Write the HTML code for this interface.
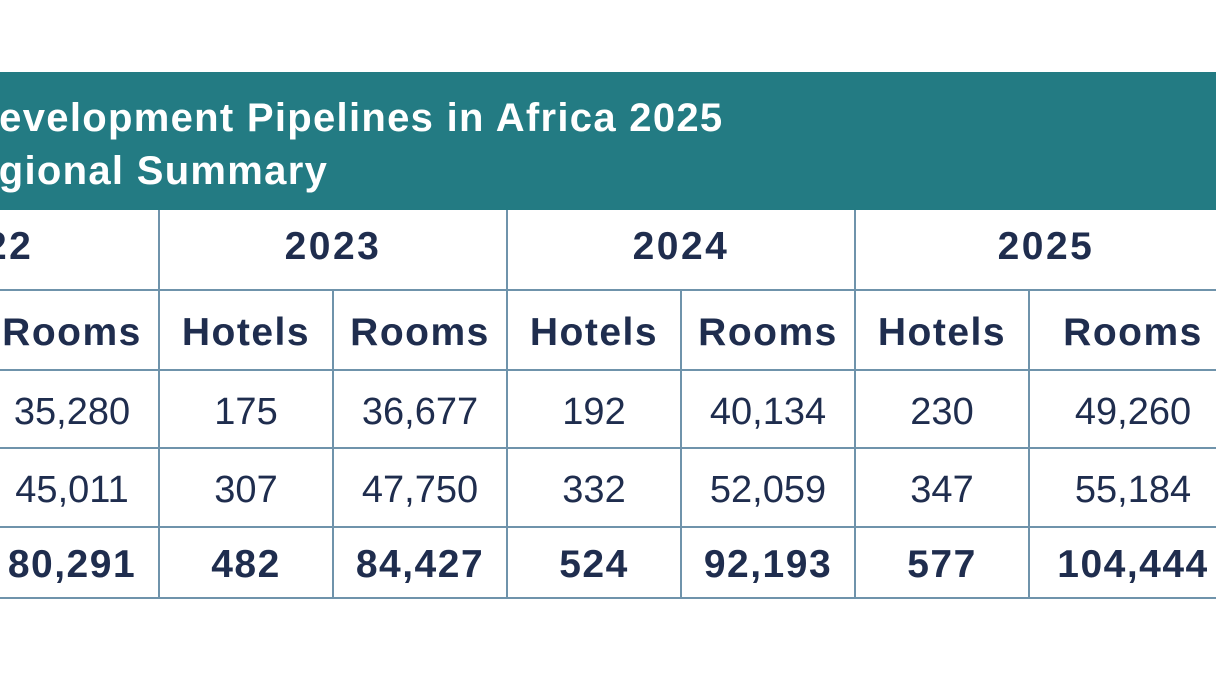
<!DOCTYPE html>
<html><head><meta charset="utf-8"><style>
body{margin:0;width:1216px;height:684px;background:#fff;overflow:hidden;font-family:"Liberation Sans",sans-serif;color:#1f2d4e}
.w{position:relative;width:1216px;height:684px;overflow:hidden}
.hd{position:absolute;left:0;top:72px;width:1216px;height:138px;background:#237b83}
.t{position:absolute;color:#fff;font-weight:bold;font-size:40px;letter-spacing:1.3px;white-space:nowrap}
.h{position:absolute;background:#6f93ab;height:2px}
.v{position:absolute;background:#6f93ab;width:2px}
.c{position:absolute;text-align:center;white-space:nowrap;font-size:38px}
.b{font-weight:bold;font-size:39px;letter-spacing:1.5px}
.y{font-size:39px;font-weight:bold;letter-spacing:2.5px}
</style></head><body><div class="w">
<div class="hd"></div>
<div class="t" style="left:-31px;top:96px">Development Pipelines in Africa 2025</div>
<div class="t" style="left:-55px;top:149px">Regional Summary</div>
<div class="h" style="left:0;width:1216px;top:289px"></div>
<div class="h" style="left:0;width:1216px;top:369px"></div>
<div class="h" style="left:0;width:1216px;top:447px"></div>
<div class="h" style="left:0;width:1216px;top:526px"></div>
<div class="h" style="left:0;width:1216px;top:597px"></div>
<div class="v" style="left:158px;top:210px;height:389px"></div>
<div class="v" style="left:506px;top:210px;height:389px"></div>
<div class="v" style="left:854px;top:210px;height:389px"></div>
<div class="v" style="left:332px;top:290px;height:309px"></div>
<div class="v" style="left:680px;top:290px;height:309px"></div>
<div class="v" style="left:1028px;top:290px;height:309px"></div>
<div class="c y" style="left:-189px;width:348px;top:225px">2022</div>
<div class="c y" style="left:159px;width:348px;top:225px">2023</div>
<div class="c y" style="left:507px;width:348px;top:225px">2024</div>
<div class="c y" style="left:855px;width:382px;top:225px">2025</div>
<div class="c b" style="left:-15px;width:174px;top:311px">Rooms</div>
<div class="c b" style="left:159px;width:174px;top:311px">Hotels</div>
<div class="c b" style="left:333px;width:174px;top:311px">Rooms</div>
<div class="c b" style="left:507px;width:174px;top:311px">Hotels</div>
<div class="c b" style="left:681px;width:174px;top:311px">Rooms</div>
<div class="c b" style="left:855px;width:174px;top:311px">Hotels</div>
<div class="c b" style="left:1029px;width:208px;top:311px">Rooms</div>
<div class="c" style="left:-15px;width:174px;top:391px">35,280</div>
<div class="c" style="left:159px;width:174px;top:391px">175</div>
<div class="c" style="left:333px;width:174px;top:391px">36,677</div>
<div class="c" style="left:507px;width:174px;top:391px">192</div>
<div class="c" style="left:681px;width:174px;top:391px">40,134</div>
<div class="c" style="left:855px;width:174px;top:391px">230</div>
<div class="c" style="left:1029px;width:208px;top:391px">49,260</div>
<div class="c" style="left:-15px;width:174px;top:469px">45,011</div>
<div class="c" style="left:159px;width:174px;top:469px">307</div>
<div class="c" style="left:333px;width:174px;top:469px">47,750</div>
<div class="c" style="left:507px;width:174px;top:469px">332</div>
<div class="c" style="left:681px;width:174px;top:469px">52,059</div>
<div class="c" style="left:855px;width:174px;top:469px">347</div>
<div class="c" style="left:1029px;width:208px;top:469px">55,184</div>
<div class="c b" style="left:-15px;width:174px;top:543px">80,291</div>
<div class="c b" style="left:159px;width:174px;top:543px">482</div>
<div class="c b" style="left:333px;width:174px;top:543px">84,427</div>
<div class="c b" style="left:507px;width:174px;top:543px">524</div>
<div class="c b" style="left:681px;width:174px;top:543px">92,193</div>
<div class="c b" style="left:855px;width:174px;top:543px">577</div>
<div class="c b" style="left:1029px;width:208px;top:543px">104,444</div>
</div></body></html>
